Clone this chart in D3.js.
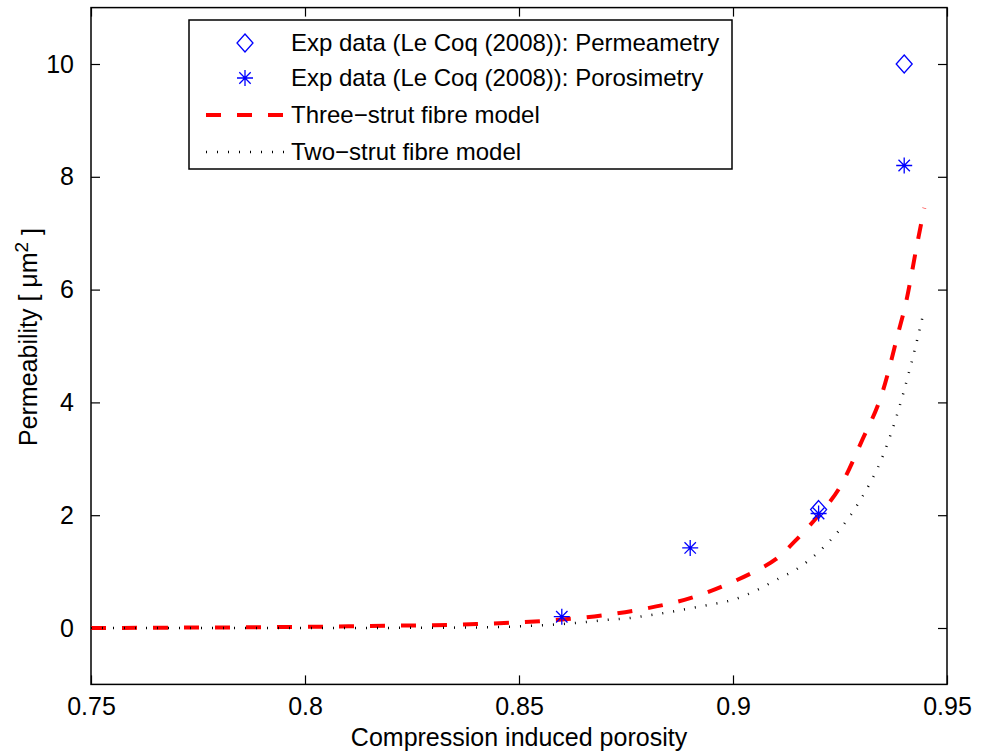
<!DOCTYPE html>
<html>
<head>
<meta charset="utf-8">
<script src="https://cdn.jsdelivr.net/npm/d3@7"></script>
<style>
  html, body { margin: 0; padding: 0; background: #fff; }
  svg { display: block; font-family: "Liberation Sans", Arial, Helvetica, sans-serif; }
</style>
</head>
<body>
<svg id="chart" width="981" height="753"></svg>
<script>
// ---- data ----
const xTicks = [0.75, 0.8, 0.85, 0.9, 0.95];
const yTicks = [0, 2, 4, 6, 8, 10];

const permX = [0.92, 0.94];
const permY = [2.1, 10.0];

const poroX = [0.86, 0.89, 0.92, 0.94];
const poroY = [0.2, 1.42, 2.03, 8.2];

const threeX = [0.75, 0.78, 0.80, 0.82, 0.83, 0.84, 0.85, 0.86, 0.87, 0.88, 0.89, 0.90, 0.905, 0.91, 0.915, 0.92, 0.925, 0.93, 0.935, 0.9385, 0.9405, 0.943, 0.9447];
const threeY = [0, 0.01, 0.02, 0.04, 0.05, 0.07, 0.1, 0.15, 0.23, 0.35, 0.53, 0.82, 1.0, 1.22, 1.58, 2.0, 2.5, 3.3, 4.2, 5.2, 5.8, 6.8, 7.45];

const twoX = [0.75, 0.80, 0.83, 0.84, 0.85, 0.86, 0.865, 0.87, 0.875, 0.88, 0.885, 0.89, 0.895, 0.90, 0.905, 0.91, 0.915, 0.92, 0.925, 0.93, 0.935, 0.938, 0.941, 0.943, 0.9447];
const twoY = [0, 0, 0.005, 0.01, 0.03, 0.07, 0.1, 0.14, 0.17, 0.22, 0.28, 0.35, 0.42, 0.5, 0.65, 0.85, 1.05, 1.35, 1.75, 2.3, 3.05, 3.7, 4.5, 5.1, 5.65];

const legendLabels = [
  "Exp data (Le Coq (2008)): Permeametry",
  "Exp data (Le Coq (2008)): Porosimetry",
  "Three\u2212strut fibre model",
  "Two\u2212strut fibre model"
];

// ---- layout ----
const L = 91, R = 947, T = 7.6, B = 684.4;
const svg = d3.select("#chart");
const x = d3.scaleLinear().domain([0.75, 0.95]).range([L, R]);
const y = d3.scaleLinear().domain([-1, 11]).range([B, T]);
const FS = 25;
const blue = "#0000ff";

// axes with inward ticks
const tl = 9;
const gB = svg.append("g").attr("transform", `translate(0,${B})`)
  .call(d3.axisBottom(x).tickValues(xTicks).tickSize(-tl).tickPadding(13).tickFormat(d3.format("")));
const gT = svg.append("g").attr("transform", `translate(0,${T})`)
  .call(d3.axisTop(x).tickValues(xTicks).tickSize(-tl).tickFormat(""));
const gL = svg.append("g").attr("transform", `translate(${L},0)`)
  .call(d3.axisLeft(y).tickValues(yTicks).tickSize(-tl).tickPadding(17).tickFormat(d3.format("")));
const gR = svg.append("g").attr("transform", `translate(${R},0)`)
  .call(d3.axisRight(y).tickValues(yTicks).tickSize(-tl).tickFormat(""));
[gB, gT, gL, gR].forEach(g => {
  g.select(".domain").remove();
  g.selectAll(".tick line").attr("stroke", "#000").attr("stroke-width", 1.2);
  g.selectAll(".tick text").attr("fill", "#000").style("font-size", FS + "px")
    .style("font-family", '"Liberation Sans", Arial, sans-serif');
});
svg.append("rect").attr("x", L).attr("y", T).attr("width", R - L).attr("height", B - T)
  .attr("fill", "none").attr("stroke", "#000").attr("stroke-width", 1.5);

// curves
const line = d3.line().x(d => x(d[0])).y(d => y(d[1])).curve(d3.curveMonotoneX);
const twoData = twoX.map((v, i) => [v, twoY[i]]);
const threeData = threeX.map((v, i) => [v, threeY[i]]);

svg.append("path").datum(threeData).attr("d", line)
  .attr("fill", "none").attr("stroke", "#ff0000").attr("stroke-width", 4)
  .attr("stroke-dasharray", "15,16");
svg.append("path").datum(twoData).attr("d", line)
  .attr("fill", "none").attr("stroke", "#000").attr("stroke-width", 2.5)
  .attr("stroke-dasharray", "1,10");

// markers
function diamond(g, cx, cy) {
  g.append("path").attr("d", `M${cx},${cy - 9}L${cx + 8},${cy}L${cx},${cy + 9}L${cx - 8},${cy}Z`)
    .attr("fill", "none").attr("stroke", blue).attr("stroke-width", 1.3);
}
function star(g, cx, cy) {
  const r = 8, d = 5.7;
  g.append("path").attr("d",
    `M${cx - r},${cy}L${cx + r},${cy}M${cx},${cy - r}L${cx},${cy + r}` +
    `M${cx - d},${cy - d}L${cx + d},${cy + d}M${cx - d},${cy + d}L${cx + d},${cy - d}`)
    .attr("fill", "none").attr("stroke", blue).attr("stroke-width", 1.3);
}
const gm = svg.append("g");
poroX.forEach((v, i) => star(gm, x(v), y(poroY[i])));
permX.forEach((v, i) => diamond(gm, x(v), y(permY[i])));

// legend
const lg = svg.append("g");
lg.append("rect").attr("x", 189).attr("y", 20).attr("width", 543).attr("height", 149)
  .attr("fill", "#fff").attr("stroke", "#000").attr("stroke-width", 1.5);
const rowY = [43, 78, 115, 152];
diamond(lg, 245, rowY[0]);
star(lg, 245, rowY[1]);
lg.append("line").attr("x1", 206).attr("x2", 285).attr("y1", rowY[2]).attr("y2", rowY[2])
  .attr("stroke", "#ff0000").attr("stroke-width", 4).attr("stroke-dasharray", "15,16");
lg.append("line").attr("x1", 206).attr("x2", 285).attr("y1", rowY[3]).attr("y2", rowY[3])
  .attr("stroke", "#000").attr("stroke-width", 2.5).attr("stroke-dasharray", "1,10");
legendLabels.forEach((t, i) => {
  lg.append("text").attr("x", 291).attr("y", rowY[i]).attr("dy", "0.35em")
    .style("font-size", "24px").attr("fill", "#000").text(t);
});

// axis labels
svg.append("text").attr("x", x(0.85)).attr("y", 746).attr("text-anchor", "middle")
  .style("font-size", FS + "px").attr("fill", "#000").text("Compression induced porosity");
const yl = svg.append("text").attr("transform", "translate(37,337) rotate(-90)")
  .attr("text-anchor", "middle").style("font-size", FS + "px").attr("fill", "#000");
yl.append("tspan").text("Permeability [ \u03bcm");
yl.append("tspan").attr("dy", "-0.45em").style("font-size", "19px").text("2");
yl.append("tspan").attr("dy", "0.45em").text(" ]");
</script>
</body>
</html>
